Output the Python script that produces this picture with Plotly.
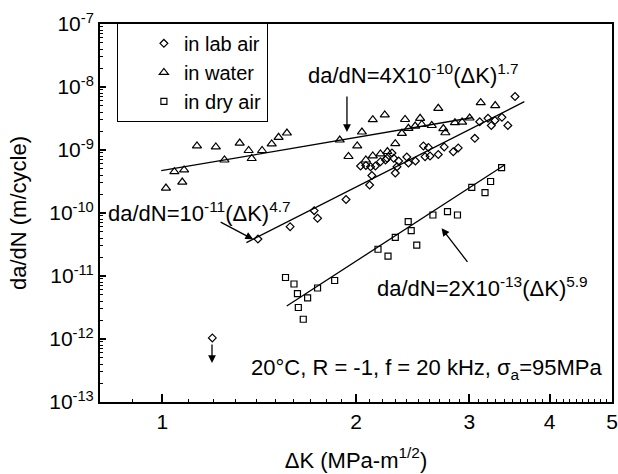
import plotly.graph_objects as go

# data (delta K in MPa m^1/2, da/dN in m/cycle)
lab_k = [1.196, 1.408, 1.580, 1.722, 1.743, 1.930, 2.100, 2.117, 2.302, 2.316,
         2.033, 2.072, 2.144, 2.183, 2.235, 2.275, 2.289, 2.330, 2.399, 2.413,
         2.474, 2.546, 2.592, 2.561, 2.607, 2.685, 2.743, 2.833, 2.884, 3.060,
         3.114, 3.208, 3.246, 3.289, 3.372, 3.444, 3.534, 2.223, 2.107]
lab_rate = [1.04e-12, 3.86e-11, 6.07e-11, 1.09e-10, 8.24e-11, 1.64e-10, 2.78e-10, 3.94e-10, 4.31e-10, 5.43e-10,
            5.57e-10, 5.68e-10, 5.57e-10, 6.52e-10, 7.38e-10, 8.96e-10, 7.38e-10, 6.68e-10, 7.75e-10, 6.22e-10,
            6.68e-10, 1.16e-9, 1.10e-9, 7.83e-10, 8.04e-10, 8.49e-10, 1.12e-9, 9.39e-10, 1.08e-9, 1.53e-9,
            2.81e-9, 3.18e-9, 2.45e-9, 2.94e-9, 3.30e-9, 2.45e-9, 7.06e-9, 6.94e-10, 5.43e-10]

water_k = [1.013, 1.074, 1.044, 1.081, 1.132, 1.211, 1.249, 1.319, 1.362, 1.377,
           1.429, 1.479, 1.516, 1.562, 1.887, 2.043, 2.009, 1.947, 2.124, 2.217,
           2.384, 2.516, 2.685, 3.126, 3.292, 2.072, 2.124, 2.183, 2.238, 2.302,
           2.357, 2.413, 2.472, 2.531, 2.623, 2.734, 2.754, 2.850, 2.924, 3.004]
water_rate = [2.49e-10, 3.10e-10, 4.53e-10, 4.82e-10, 1.16e-9, 1.12e-9, 6.94e-10, 1.29e-9, 9.82e-10, 7.33e-10,
              9.82e-10, 1.25e-9, 1.59e-9, 1.86e-9, 1.44e-9, 1.93e-9, 1.16e-9, 7.89e-10, 3.03e-9, 3.60e-9,
              3.05e-9, 3.18e-9, 4.59e-9, 5.64e-9, 5.08e-9, 6.94e-10, 8.04e-10, 8.65e-10, 9.46e-10, 1.26e-9,
              1.84e-9, 2.21e-9, 2.40e-9, 2.54e-9, 2.45e-9, 2.19e-9, 1.88e-9, 2.71e-9, 2.78e-9, 3.22e-9]

dry_k = [1.554, 1.602, 1.622, 1.682, 1.627, 1.656, 1.743, 1.853, 2.164, 2.243,
         2.302, 2.411, 2.437, 2.486, 2.634, 2.775, 2.876, 3.027, 3.174, 3.238, 3.368]
dry_rate = [9.46e-12, 7.46e-12, 5.24e-12, 4.48e-12, 3.16e-12, 2.06e-12, 6.45e-12, 8.49e-12, 2.66e-11, 2.07e-11,
            4.11e-11, 7.28e-11, 5.27e-11, 3.10e-11, 9.29e-11, 1.05e-10, 9.29e-11, 2.56e-10, 2.10e-10, 3.16e-10, 5.27e-10]

# fitted power-law lines, end points
water_fit_k = [0.996, 3.04]
water_fit_rate = [4.69e-10, 3.28e-9]
lab_fit_k = [1.351, 3.654]
lab_fit_rate = [3.38e-11, 5.85e-9]
dry_fit_k = [1.561, 3.404]
dry_fit_rate = [3.34e-12, 5.78e-10]

y_tickvals = [1e-13, 1e-12, 1e-11, 1e-10, 1e-9, 1e-8, 1e-7]
y_ticktext = ["10<sup>-13</sup>", "10<sup>-12</sup>", "10<sup>-11</sup>", "10<sup>-10</sup>",
              "10<sup>-9</sup>", "10<sup>-8</sup>", "10<sup>-7</sup>"]
x_tickvals = [1, 2, 3, 4, 5]
x_ticktext = ["1", "2", "3", "4", "5"]
x_minor = [i / 10 for i in range(9, 50) if i % 10 != 0]

FONT = "Liberation Sans, Arial, sans-serif"
line_style = dict(color="black", width=1.3)

fig = go.Figure()
fig.add_trace(go.Scatter(x=lab_k, y=lab_rate, mode="markers", name="in lab air",
                         marker=dict(symbol="diamond-open", size=6, color="black", line=dict(width=1.2))))
fig.add_trace(go.Scatter(x=water_k, y=water_rate, mode="markers", name="in water",
                         marker=dict(symbol="triangle-up-open", size=8, color="black", line=dict(width=1.2))))
fig.add_trace(go.Scatter(x=dry_k, y=dry_rate, mode="markers", name="in dry air",
                         marker=dict(symbol="square-open", size=6, color="black", line=dict(width=1.2))))
for fx, fy in [(water_fit_k, water_fit_rate), (lab_fit_k, lab_fit_rate), (dry_fit_k, dry_fit_rate)]:
    fig.add_trace(go.Scatter(x=fx, y=fy, mode="lines", line=line_style, showlegend=False, hoverinfo="skip"))

# equation labels (positions in log10 units of the axes)
texts = [
    ("da/dN=4X10<sup>-10</sup>(ΔK)<sup>1.7</sup>", 0.39, -7.80, "center"),
    ("da/dN=10<sup>-11</sup>(ΔK)<sup>4.7</sup>", -0.088, -9.98, "left"),
    ("da/dN=2X10<sup>-13</sup>(ΔK)<sup>5.9</sup>", 0.33, -11.18, "left"),
    ("20°C, R = -1, f = 20 kHz, σ<sub>a</sub>=95MPa", 0.135, -12.48, "left"),
]
for t, ax_, ay_, anc in texts:
    fig.add_annotation(x=ax_, y=ay_, text=t, showarrow=False, xanchor=anc, yanchor="middle",
                       font=dict(family=FONT, size=22, color="black"))

# arrows: head position (log10 units) and tail offset in pixels
arrows = [
    (0.287, -8.714, 0, -37),
    (0.1412, -10.417, -34, -18),
    (0.4341, -10.243, 27, 35),
    (0.0772, -12.381, 0, -20),
]
for hx, hy, tx, ty in arrows:
    fig.add_annotation(x=hx, y=hy, ax=tx, ay=ty, text="", showarrow=True,
                       arrowhead=2, arrowsize=1.2, arrowwidth=1.3, arrowcolor="black")

fig.update_xaxes(type="log", range=[-0.0969, 0.699], tickvals=x_tickvals, ticktext=x_ticktext,
                 ticks="inside", ticklen=8, tickwidth=1.5, tickcolor="black", automargin=False,
                 minor=dict(tickvals=x_minor, ticks="inside", ticklen=3, tickwidth=1.2, tickcolor="black"),
                 showline=True, linewidth=2, linecolor="black", mirror=True, showgrid=False, zeroline=False,
                 tickfont=dict(family=FONT, size=21, color="black"),
                 title=dict(text="ΔK (MPa-m<sup>1/2</sup>)", font=dict(family=FONT, size=22, color="black"), standoff=20))
fig.update_yaxes(type="log", range=[-13, -7], tickvals=y_tickvals, ticktext=y_ticktext,
                 ticks="inside", ticklen=6, tickwidth=1.5, tickcolor="black", automargin=False,
                 minor=dict(dtick="D1", ticks="inside", ticklen=3, tickwidth=1, tickcolor="black"),
                 showline=True, linewidth=2, linecolor="black", mirror=True, showgrid=False, zeroline=False,
                 tickfont=dict(family=FONT, size=21, color="black"),
                 title=dict(text="da/dN (m/cycle)", font=dict(family=FONT, size=22, color="black"), standoff=17))

fig.update_layout(
    width=618, height=474,
    margin=dict(l=100, r=6, t=24, b=72),
    paper_bgcolor="white", plot_bgcolor="white",
    font=dict(family=FONT, size=20, color="black"),
    legend=dict(x=0.033, y=1.003, xanchor="left", yanchor="top", bgcolor="white",
                bordercolor="black", borderwidth=1, indentation=26, entrywidth=148,
                font=dict(family=FONT, size=20, color="black")),
)

# drop the default 8 px page margin so the figure fills the window
fig.write_html("out.html", config={"displayModeBar": False},
               post_script="document.body.style.margin='0';")
